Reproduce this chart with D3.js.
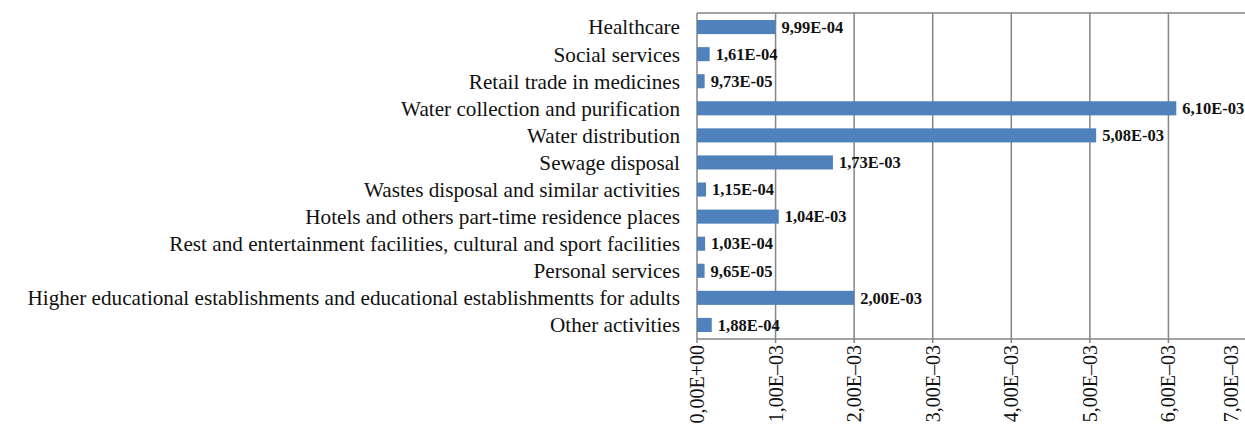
<!DOCTYPE html>
<html><head><meta charset="utf-8">
<script src="https://cdn.jsdelivr.net/npm/d3@7/dist/d3.min.js"></script>
<style>body{margin:0;background:#fff}</style>
</head><body>
<svg id="c" width="1245" height="434"></svg>
<script>
const categories = [
  "Healthcare",
  "Social services",
  "Retail trade in medicines",
  "Water collection and purification",
  "Water distribution",
  "Sewage disposal",
  "Wastes disposal and similar activities",
  "Hotels and others part-time residence places",
  "Rest and entertainment facilities, cultural and sport facilities",
  "Personal services",
  "Higher educational establishments and educational establishmentts for adults",
  "Other activities"
];
const values = [9.99e-4, 1.61e-4, 9.73e-5, 6.10e-3, 5.08e-3, 1.73e-3, 1.15e-4, 1.04e-3, 1.03e-4, 9.65e-5, 2.00e-3, 1.88e-4];
const valueLabels = ["9,99E-04","1,61E-04","9,73E-05","6,10E-03","5,08E-03","1,73E-03","1,15E-04","1,04E-03","1,03E-04","9,65E-05","2,00E-03","1,88E-04"];
const tickValues = [0, 1e-3, 2e-3, 3e-3, 4e-3, 5e-3, 6e-3, 7e-3];
const tickLabels = ["0,00E+00","1,00E\u201303","2,00E\u201303","3,00E\u201303","4,00E\u201303","5,00E\u201303","6,00E\u201303","7,00E\u201303"];

(function () {
const W = 1245;
const svg = d3.select("#c");
const mL = 697, mR = 1247, mT = 13, mB = 339;
const x = d3.scaleLinear().domain([0, 7e-3]).range([mL, mR]);
const y = d3.scaleBand().domain(categories).range([mT, mB]).paddingInner(0.48).paddingOuter(0.26);
const serif = "Liberation Serif, Times New Roman, serif";

// grid
svg.append("g").selectAll("line").data(tickValues).join("line")
  .attr("x1", d => x(d)).attr("x2", d => x(d))
  .attr("y1", mT).attr("y2", mB + 4)
  .attr("stroke", "#858585").attr("stroke-width", 1.5);
svg.append("line").attr("x1", mL).attr("x2", W).attr("y1", mT).attr("y2", mT)
  .attr("stroke", "#858585").attr("stroke-width", 1.5);
svg.append("line").attr("x1", mL).attr("x2", W).attr("y1", mB).attr("y2", mB)
  .attr("stroke", "#858585").attr("stroke-width", 1.5);

// bars
svg.append("g").selectAll("rect").data(values).join("rect")
  .attr("x", x(0)).attr("y", (d, i) => y(categories[i]))
  .attr("width", d => x(d) - x(0)).attr("height", y.bandwidth())
  .attr("fill", "#4F81BD");

// value labels
svg.append("g").selectAll("text").data(values).join("text")
  .attr("x", d => x(d) + 6).attr("y", (d, i) => y(categories[i]) + y.bandwidth() / 2)
  .attr("dy", "0.35em")
  .attr("font-family", serif)
  .attr("font-weight", "bold").attr("font-size", 16.5).attr("fill", "#111")
  .text((d, i) => valueLabels[i]);

// category labels
svg.append("g").selectAll("text").data(categories).join("text")
  .attr("x", mL - 17).attr("y", d => y(d) + y.bandwidth() / 2)
  .attr("dy", "0.35em").attr("text-anchor", "end")
  .attr("font-family", serif)
  .attr("font-size", 21.2).attr("fill", "#111")
  .text(d => d);

// tick labels (last one nudged inside the picture)
svg.append("g").selectAll("text").data(tickValues).join("text")
  .attr("transform", d => `translate(${Math.min(x(d), W - 14)},${mB + 6}) rotate(-90)`)
  .attr("text-anchor", "end").attr("dy", "0.35em")
  .attr("font-family", serif)
  .attr("font-size", 20).attr("fill", "#111")
  .text((d, i) => tickLabels[i]);
})();
</script>
</body></html>
